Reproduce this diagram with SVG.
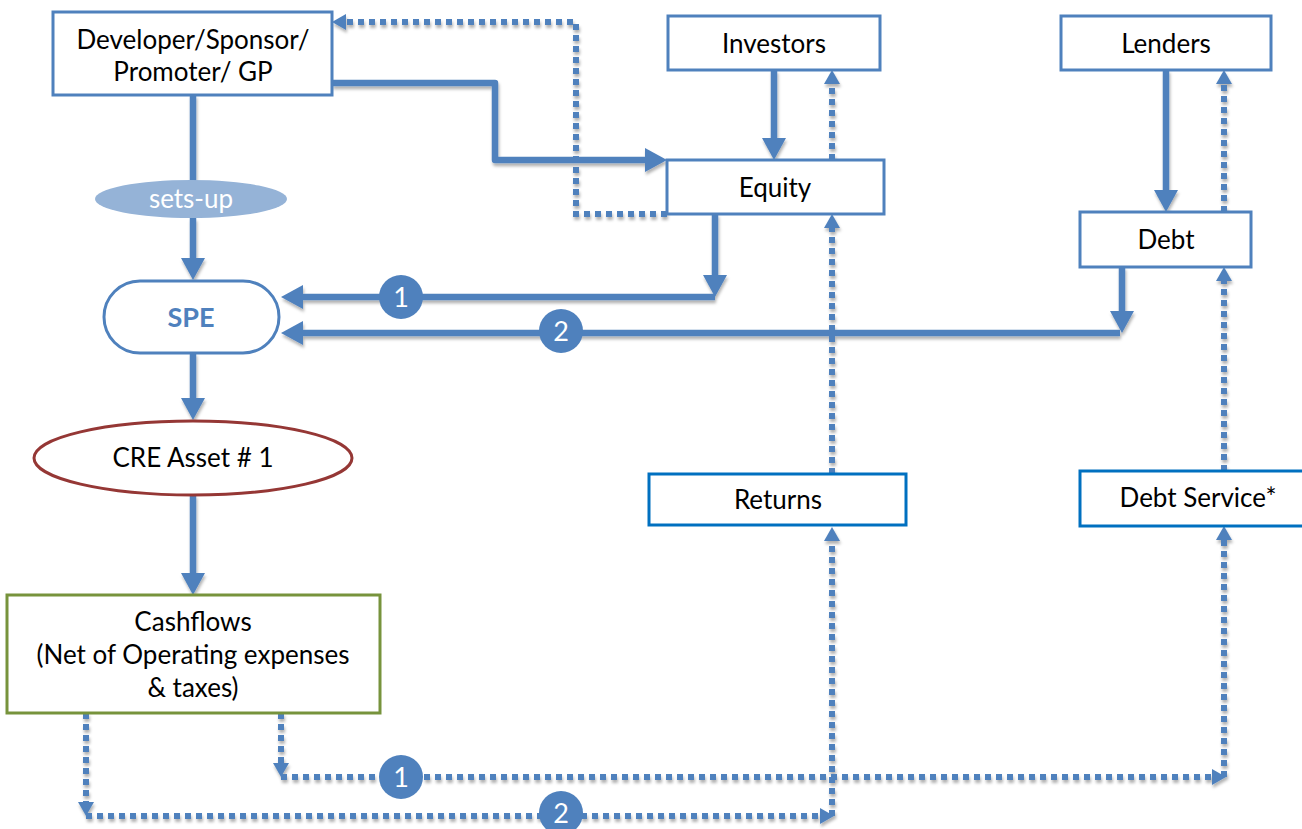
<svg xmlns="http://www.w3.org/2000/svg" width="1302" height="829" viewBox="0 0 1302 829">
  <style>
    .box { fill: #ffffff; stroke: #4f81bd; stroke-width: 3; }
    .box-out { fill: #ffffff; stroke: #0070c0; stroke-width: 3; }
    .lbl { font-family: Lato, "Liberation Sans", sans-serif; font-size: 26px; fill: #000000; text-anchor: middle; }
    .thick { fill: none; stroke: #4f81bd; stroke-width: 6.5; stroke-linejoin: round; }
    .dots { fill: none; stroke: #4f81bd; stroke-width: 6; stroke-dasharray: 6 5; }
    .num { fill: #4f81bd; }
    .numtxt { font-family: Lato, "Liberation Sans", sans-serif; font-size: 27px; fill: #ffffff; text-anchor: middle; }
  </style>
  <defs>
    <marker id="headThick" markerUnits="userSpaceOnUse" markerWidth="22" markerHeight="24" refX="0" refY="12" orient="auto" overflow="visible">
      <path d="M0,0 L22,12 L0,24 Z" fill="#4f81bd"/>
    </marker>
    <marker id="headDot" markerUnits="userSpaceOnUse" markerWidth="14" markerHeight="16" refX="0" refY="8" orient="auto" overflow="visible">
      <path d="M0,0 L14,8 L0,16 Z" fill="#4f81bd"/>
    </marker>
    <filter id="shadow" x="-5%" y="-5%" width="110%" height="110%">
      <feDropShadow dx="1" dy="3" stdDeviation="1.8" flood-color="#000000" flood-opacity="0.3"/>
    </filter>
  </defs>

  <!-- flows -->
  <g id="connectors" filter="url(#shadow)">
    <!-- capital flows -->
    <path class="thick" d="M193,95 V182"/>
    <path class="thick" d="M193,218 V258" marker-end="url(#headThick)"/>
    <path class="thick" d="M332,83 H495 V160 H645" marker-end="url(#headThick)"/>
    <path class="thick" d="M774,70 V138" marker-end="url(#headThick)"/>
    <path class="thick" d="M1166,70 V190" marker-end="url(#headThick)"/>
    <path class="thick" d="M715,214 V275" marker-end="url(#headThick)"/>
    <path class="thick" d="M715,297 H303" marker-end="url(#headThick)"/>
    <path class="thick" d="M1122,267 V311" marker-end="url(#headThick)"/>
    <path class="thick" d="M1120,333 H303" marker-end="url(#headThick)"/>
    <path class="thick" d="M193,353 V398" marker-end="url(#headThick)"/>
    <path class="thick" d="M193,495 V573" marker-end="url(#headThick)"/>

    <!-- return flows -->
    <path class="dots" d="M667,214 H576 V22 H346" marker-end="url(#headDot)"/>
    <path class="dots" d="M832,160 V84" marker-end="url(#headDot)"/>
    <path class="dots" d="M1224,212 V84" marker-end="url(#headDot)"/>
    <path class="dots" d="M832,474 V228" marker-end="url(#headDot)"/>
    <path class="dots" d="M1224,471 V281" marker-end="url(#headDot)"/>
    <path class="dots" d="M281,713 V763" marker-end="url(#headDot)"/>
    <path class="dots" d="M281,777 H1212" marker-end="url(#headDot)"/>
    <path class="dots" d="M1224,777 V540" marker-end="url(#headDot)"/>
    <path class="dots" d="M86,713 V802" marker-end="url(#headDot)"/>
    <path class="dots" d="M86,816 H820" marker-end="url(#headDot)"/>
    <path class="dots" d="M832,816 V541" marker-end="url(#headDot)"/>
  </g>

  <!-- sequence markers -->
  <g id="badge-1a"><circle class="num" cx="401" cy="297" r="22"/><text class="numtxt" x="401" y="307">1</text></g>
  <g id="badge-2a"><circle class="num" cx="561" cy="331" r="22"/><text class="numtxt" x="561" y="341">2</text></g>
  <g id="badge-1b"><circle class="num" cx="401" cy="777" r="22"/><text class="numtxt" x="401" y="787">1</text></g>
  <g id="badge-2b"><circle class="num" cx="561" cy="813" r="22"/><text class="numtxt" x="561" y="823">2</text></g>

  <g id="developer">
    <rect class="box" x="53" y="12" width="279" height="83"/>
    <text class="lbl" x="193" y="49">Developer/Sponsor/</text>
    <text class="lbl" x="193" y="81">Promoter/ GP</text>
  </g>
  <g id="investors">
    <rect class="box" x="668" y="16" width="212" height="54"/>
    <text class="lbl" x="774" y="53">Investors</text>
  </g>
  <g id="equity">
    <rect class="box" x="667" y="160" width="217" height="54"/>
    <text class="lbl" x="775" y="197">Equity</text>
  </g>
  <g id="lenders">
    <rect class="box" x="1061" y="16" width="210" height="54"/>
    <text class="lbl" x="1166" y="53">Lenders</text>
  </g>
  <g id="debt">
    <rect class="box" x="1080" y="212" width="171" height="55"/>
    <text class="lbl" x="1166" y="249">Debt</text>
  </g>
  <g id="sets-up">
    <ellipse cx="191" cy="199" rx="96" ry="19" fill="#95b3d7"/>
    <text class="lbl" x="191" y="208" style="fill:#ffffff">sets-up</text>
  </g>
  <g id="spe">
    <rect class="box" x="104" y="281" width="175" height="72" rx="36" ry="36"/>
    <text x="191" y="327" font-family="Lato, 'Liberation Sans', sans-serif" font-size="27" font-weight="bold" fill="#4f81bd" text-anchor="middle">SPE</text>
  </g>
  <g id="cre-asset">
    <ellipse cx="193" cy="458" rx="159" ry="37" fill="#ffffff" stroke="#953735" stroke-width="3"/>
    <text class="lbl" x="193" y="467">CRE Asset # 1</text>
  </g>
  <g id="cashflows">
    <rect x="7" y="595" width="373" height="118" fill="#ffffff" stroke="#77933c" stroke-width="3"/>
    <text class="lbl" x="193" y="631">Cashflows</text>
    <text class="lbl" x="193" y="664">(Net of Operating expenses</text>
    <text class="lbl" x="193" y="697">&amp; taxes)</text>
  </g>
  <g id="returns">
    <rect class="box-out" x="649" y="474" width="257" height="51"/>
    <text class="lbl" x="778" y="509">Returns</text>
  </g>
  <g id="debt-service">
    <rect class="box-out" x="1080" y="471" width="236" height="55"/>
    <text class="lbl" x="1198" y="507">Debt Service*</text>
  </g>
</svg>
